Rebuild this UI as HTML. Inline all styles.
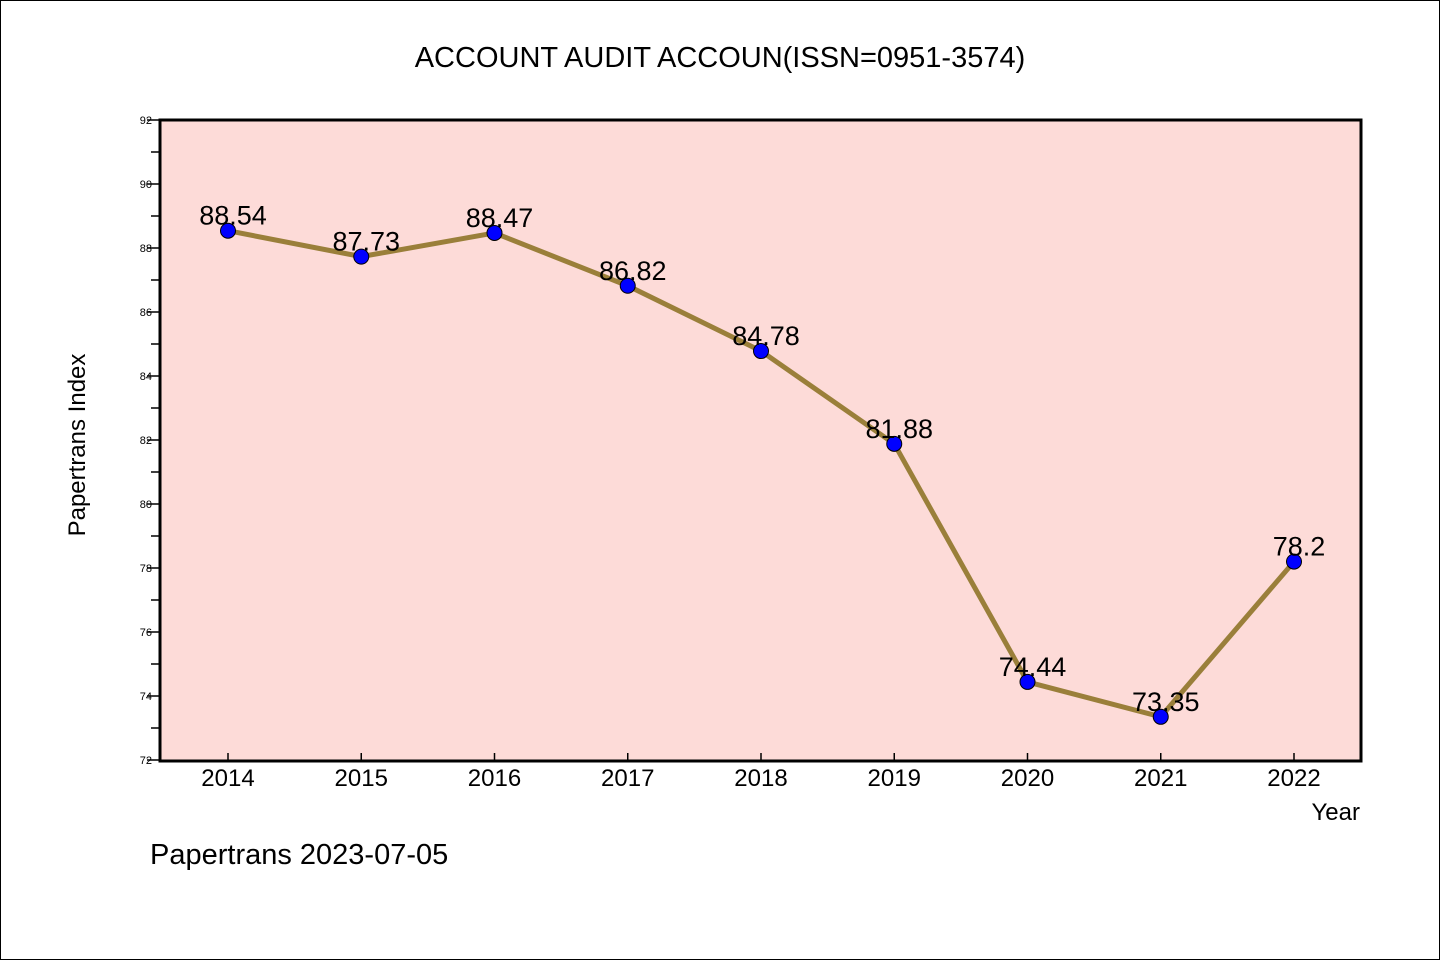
<!DOCTYPE html>
<html><head><meta charset="utf-8"><style>
body{margin:0;background:#fff}
svg{display:block;font-family:"WenQuanYi Zen Hei","Liberation Sans",sans-serif}
</style></head><body>
<svg width="1440" height="960">
<rect x="0.5" y="0.5" width="1439" height="959" fill="#fff" stroke="#000"/>
<text x="720" y="67" font-size="29" text-anchor="middle">ACCOUNT AUDIT ACCOUN(ISSN=0951-3574)</text>
<rect x="160" y="120" width="1201" height="641" fill="#fddbd8"/>
<g id="yaxis"></g><g id="xaxis"></g>
<polyline id="line" fill="none" stroke="#9a7f3a" stroke-width="5"/>
<g id="pts"></g>
<rect x="160" y="120" width="1201" height="641" fill="none" stroke="#000" stroke-width="3"/>
<text transform="translate(85,445) rotate(-90)" font-size="24" text-anchor="middle">Papertrans Index</text>
<text x="1360" y="820" font-size="24" text-anchor="end">Year</text>
<text x="150" y="864" font-size="29">Papertrans 2023-07-05</text>
</svg>
<script>
const years=["2014","2015","2016","2017","2018","2019","2020","2021","2022"];
const values=[88.54,87.73,88.47,86.82,84.78,81.88,74.44,73.35,78.2];
const labels=["88.54","87.73","88.47","86.82","84.78","81.88","74.44","73.35","78.2"];
const yTicks=[72,74,76,78,80,82,84,86,88,90,92];
const NS="http://www.w3.org/2000/svg";
const yMin=72,yMax=92;
function ys(v){return 760-(v-yMin)/(yMax-yMin)*640;}
function xs(i){return 228+i*(1294-228)/(years.length-1);}
function mk(t,a,p){const e=document.createElementNS(NS,t);for(const k in a)e.setAttribute(k,a[k]);p.appendChild(e);return e;}
const ya=document.getElementById('yaxis');
yTicks.forEach(v=>{
 const l=mk('line',{x1:147,x2:160,y1:ys(v),y2:ys(v),stroke:'#000','stroke-width':1.5},ya);
 
 
 const t=mk('text',{x:152,y:ys(v)+4,'font-size':11,'text-anchor':'end'},ya);
 t.textContent=v;
 
 
 if(v<yMax){const m=mk('line',{x1:151,x2:160,y1:ys(v+1),y2:ys(v+1),stroke:'#000','stroke-width':1.5},ya);
 
 }
});
const xa=document.getElementById('xaxis');
years.forEach((y,i)=>{
 const l=mk('line',{x1:xs(i),x2:xs(i),y1:753,y2:761,stroke:'#000','stroke-width':1.5},xa);
 
 
 const t=mk('text',{x:xs(i),y:786,'font-size':24,'text-anchor':'middle'},xa);
 t.textContent=y;
 
 
});
document.getElementById('line').setAttribute('points',values.map((v,i)=>xs(i)+','+ys(v)).join(' '));
const pts=document.getElementById('pts');
values.forEach((v,i)=>{
 const c=mk('circle',{cx:xs(i),cy:ys(v),r:7.5,fill:'#0000ff',stroke:'#000','stroke-width':1},pts);
 
 
 const t=mk('text',{x:xs(i)+5,y:ys(v)-6,'font-size':27,'text-anchor':'middle'},pts);
 t.textContent=labels[i];
 
 
});
</script>
</body></html>
